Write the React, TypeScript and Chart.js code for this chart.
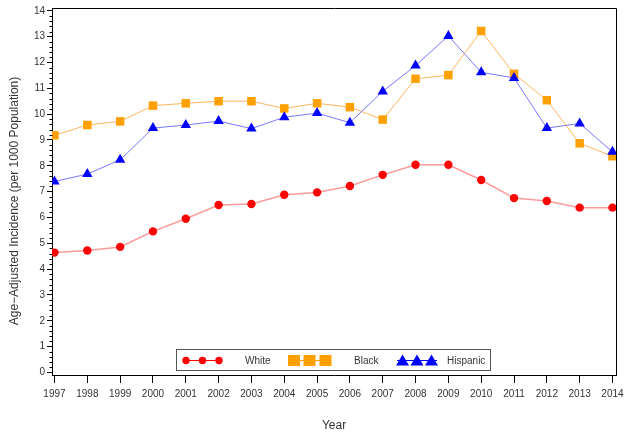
import React, { useEffect, useRef } from "react";
import { Chart, registerables } from "chart.js";

Chart.register(...registerables);

const years = [1997, 1998, 1999, 2000, 2001, 2002, 2003, 2004, 2005, 2006, 2007, 2008, 2009, 2010, 2011, 2012, 2013, 2014];
const white = [4.64, 4.72, 4.86, 5.46, 5.95, 6.48, 6.52, 6.88, 6.97, 7.22, 7.65, 8.04, 8.04, 7.45, 6.75, 6.64, 6.38, 6.38];
const black = [9.18, 9.58, 9.72, 10.33, 10.42, 10.5, 10.5, 10.22, 10.42, 10.27, 9.79, 11.37, 11.51, 13.22, 11.56, 10.54, 8.87, 8.37];
const hispanic = [7.39, 7.68, 8.23, 9.46, 9.58, 9.73, 9.44, 9.88, 10.04, 9.67, 10.88, 11.88, 13.03, 11.62, 11.4, 9.46, 9.64, 8.54];
const yMajorTicks = [0, 1, 2, 3, 4, 5, 6, 7, 8, 9, 10, 11, 12, 13, 14];
const seriesNames = ["White", "Black", "Hispanic"];
const yTitle = "Age\u2212Adjusted Incidence (per 1000 Population)";
const xTitle = "Year";

const FONT = "'Liberation Sans', Arial, Helvetica, sans-serif";

const framePlugin = {
  id: "frameAndExtras",
  afterDraw(chart: any) {
    const { ctx, chartArea } = chart;
    const yScale = chart.scales.y;
    ctx.save();
    ctx.strokeStyle = "#000";
    ctx.lineWidth = 1;
    ctx.beginPath();
    const l = Math.round(chartArea.left) + 0.5;
    const r = Math.round(chartArea.right) + 0.5;
    const t = Math.round(chartArea.top) + 0.5;
    const b = Math.round(chartArea.bottom) + 0.5;
    ctx.moveTo(l, t);
    ctx.lineTo(r, t);
    ctx.lineTo(r, b);
    ctx.stroke();
    ctx.beginPath();
    for (let i = 0; i < 14 * 5; i++) {
      if (i % 5 === 0) continue;
      const v = i / 5;
      const py = Math.round(yScale.getPixelForValue(v)) + 0.5;
      ctx.moveTo(l - 3, py);
      ctx.lineTo(l, py);
    }
    ctx.stroke();
    ctx.fillStyle = "#333";
    ctx.font = `12px ${FONT}`;
    ctx.textAlign = "center";
    ctx.textBaseline = "middle";
    ctx.translate(15, 201);
    ctx.rotate(-Math.PI / 2);
    ctx.fillText(yTitle, 0, 0);
    ctx.restore();

    ctx.save();
    ctx.strokeStyle = "#555";
    ctx.lineWidth = 1;
    ctx.strokeRect(176.5, 349.5, 314, 21);
    const cy = 360.5;
    ctx.strokeStyle = "#ff0000";
    ctx.beginPath();
    ctx.moveTo(183, cy);
    ctx.lineTo(222, cy);
    ctx.stroke();
    ctx.fillStyle = "#ff0000";
    [186, 202.5, 219].forEach((x) => {
      ctx.beginPath();
      ctx.arc(x, cy, 3.7, 0, Math.PI * 2);
      ctx.fill();
    });
    ctx.strokeStyle = "#ffa000";
    ctx.beginPath();
    ctx.moveTo(289, cy);
    ctx.lineTo(331, cy);
    ctx.stroke();
    ctx.fillStyle = "#ffa000";
    [294, 309.5, 325.5].forEach((x) => {
      ctx.fillRect(x - 6, cy - 5.5, 12, 11);
    });
    ctx.strokeStyle = "#0000ff";
    ctx.beginPath();
    ctx.moveTo(397, cy);
    ctx.lineTo(437, cy);
    ctx.stroke();
    ctx.fillStyle = "#0000ff";
    [402.5, 417, 431.5].forEach((x) => {
      ctx.beginPath();
      ctx.moveTo(x, cy - 6);
      ctx.lineTo(x + 6.5, cy + 5);
      ctx.lineTo(x - 6.5, cy + 5);
      ctx.closePath();
      ctx.fill();
    });
    ctx.fillStyle = "#333";
    ctx.font = `10px ${FONT}`;
    ctx.textAlign = "left";
    ctx.textBaseline = "middle";
    ctx.fillText(seriesNames[0], 245, cy + 1);
    ctx.fillText(seriesNames[1], 354, cy + 1);
    ctx.fillText(seriesNames[2], 447, cy + 1);
    ctx.restore();
  },
};

export default function App() {
  const ref = useRef<HTMLCanvasElement>(null);
  useEffect(() => {
    if (!ref.current) return;
    const toPts = (arr: number[]) => arr.map((v, i) => ({ x: years[i], y: v }));
    const chart = new Chart(ref.current, {
      type: "line",
      data: {
        datasets: [
          {
            label: seriesNames[0],
            data: toPts(white),
            borderColor: "#ff9a9a",
            borderWidth: 1.5,
            pointStyle: "circle",
            pointRadius: 4.2,
            pointBackgroundColor: "#ff0000",
            pointBorderColor: "#ff0000",
            pointBorderWidth: 0,
            order: 2,
          },
          {
            label: seriesNames[1],
            data: toPts(black),
            borderColor: "#ffb460",
            borderWidth: 1,
            pointStyle: "rect",
            pointRadius: 6,
            pointBackgroundColor: "#ffa000",
            pointBorderColor: "#ffa000",
            pointBorderWidth: 0,
            order: 1,
          },
          {
            label: seriesNames[2],
            data: toPts(hispanic),
            borderColor: "#7878ff",
            borderWidth: 1,
            pointStyle: "triangle",
            pointRadius: 6,
            pointBackgroundColor: "#0000ff",
            pointBorderColor: "#0000ff",
            pointBorderWidth: 0,
            order: 0,
          },
        ],
      },
      options: {
        animation: false,
        responsive: false,
        maintainAspectRatio: false,
        layout: { padding: { top: 3, right: 14, left: 0, bottom: 0 } },
        plugins: { legend: { display: false }, tooltip: { enabled: false } },
        scales: {
          x: {
            type: "linear",
            min: 1996.924,
            max: 2014.107,
            afterBuildTicks: (s: any) => {
              s.ticks = years.map((v) => ({ value: v }));
            },
            afterFit: (s: any) => {
              s.height = 58;
            },
            ticks: {
              autoSkip: false,
              maxRotation: 0,
              padding: 5,
              color: "#333",
              font: { family: FONT, size: 10 },
              callback: (v: any) => String(v),
            },
            grid: { drawOnChartArea: false, drawTicks: true, tickLength: 8, color: "#000", tickWidth: 1 },
            border: { display: true, color: "#000", width: 1 },
            title: { display: true, text: xTitle, color: "#333", font: { family: FONT, size: 12 }, padding: { top: 6, bottom: 0 } },
          },
          y: {
            type: "linear",
            min: -0.1,
            max: 14.11,
            afterBuildTicks: (s: any) => {
              s.ticks = yMajorTicks.map((v) => ({ value: v }));
            },
            afterFit: (s: any) => {
              s.width = 52;
            },
            ticks: {
              autoSkip: false,
              padding: 2,
              color: "#333",
              font: { family: FONT, size: 10 },
              callback: (v: any) => String(v),
            },
            grid: { drawOnChartArea: false, drawTicks: true, tickLength: 5, color: "#000", tickWidth: 1 },
            border: { display: true, color: "#000", width: 1 },
          },
        },
      },
      plugins: [framePlugin],
    } as any);
    return () => chart.destroy();
  }, []);
  return (
    <div style={{ position: "absolute", left: 0, top: 0, width: 630, height: 433, background: "#fff" }}>
      <canvas ref={ref} width={630} height={433} style={{ width: 630, height: 433 }} />
    </div>
  );
}
